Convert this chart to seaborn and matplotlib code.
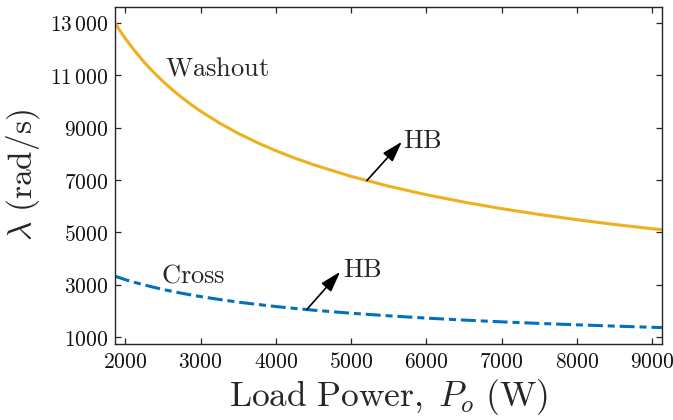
import matplotlib
matplotlib.use("Agg")
import matplotlib.pyplot as plt
from matplotlib.ticker import FuncFormatter, FixedLocator
import seaborn as sns
import pandas as pd

# Load power samples (W)
load_power = [1863, 1925, 2000, 2100, 2250, 2375, 2500, 2625, 2750, 2875,
              3000, 3250, 3500, 3750, 4000, 4250, 4500, 5000, 5500, 6000,
              6500, 7000, 7500, 8000, 8500, 9000, 9133]
# Boundary eigenvalue magnitude (rad/s)
washout = [13000, 12722, 12408, 12023, 11504, 11119, 10769, 10448, 10154, 9883,
           9631, 9180, 8784, 8435, 8122, 7842, 7587, 7142, 6766, 6442,
           6159, 5909, 5687, 5487, 5306, 5142, 5105]
cross = [3329, 3270, 3195, 3110, 2998, 2908, 2823, 2748, 2678, 2612,
         2550, 2441, 2339, 2252, 2170, 2098, 2031, 1915, 1816, 1729,
         1653, 1586, 1526, 1472, 1423, 1378, 1367]

x_ticks = [2000, 3000, 4000, 5000, 6000, 7000, 8000, 9000]
y_ticks = [1000, 3000, 5000, 7000, 9000, 11000, 13000]

# Hopf bifurcation markers: (base x, base y) on curve -> (tip x, tip y)
hb_washout = (5210, 6980, 5675, 8464)
hb_cross = (4413, 2060, 4855, 3497)

df = pd.DataFrame({"P": load_power, "washout": washout, "cross": cross})

sns.set_style("ticks")
plt.rcParams["mathtext.fontset"] = "cm"
plt.rcParams["font.family"] = ["DejaVu Serif"]

fig = plt.figure(figsize=(6.73, 4.20), dpi=100)
ax = fig.add_axes([0.1709, 0.181, 0.8128, 0.8023])

sns.lineplot(data=df, x="P", y="washout", ax=ax, color="#EDB120", lw=2.2,
             solid_capstyle="butt", solid_joinstyle="round")
sns.lineplot(data=df, x="P", y="cross", ax=ax, color="#0072BD", lw=2.2,
             linestyle=(0, (4.9, 1.6, 2.3, 1.6)), dash_capstyle="butt")

ax.set_xlim(min(load_power), max(load_power))
ax.set_ylim(740, 13610)

ax.xaxis.set_major_locator(FixedLocator(x_ticks))
ax.yaxis.set_major_locator(FixedLocator(y_ticks))


def fmt(v, _pos):
    v = int(round(v))
    if v >= 10000:
        return r"$%d\,%03d$" % (v // 1000, v % 1000)
    return r"$%d$" % v


ax.xaxis.set_major_formatter(FuncFormatter(fmt))
ax.yaxis.set_major_formatter(FuncFormatter(fmt))

ax.tick_params(direction="in", length=4, width=0.9, labelsize=15.5,
               top=True, right=True, color="#262626", labelcolor="#111111",
               pad=5)
for s in ax.spines.values():
    s.set_linewidth(1.0)
    s.set_color("#262626")

ax.set_xlabel(r"$\mathrm{Load\ Power,}\;P_o\ \mathrm{(W)}$", fontsize=25.5,
              labelpad=3)
ax.set_ylabel(r"$\lambda\ \mathrm{(rad/s)}$", fontsize=24, labelpad=6)

ax.text(2531, 11013, r"$\mathrm{Washout}$", fontsize=19, va="baseline")
ax.text(2478, 3103, r"$\mathrm{Cross}$", fontsize=19, va="baseline")

for bx, by, tx, ty, lx, ly in [(*hb_washout, 5692, 8224), (*hb_cross, 4895, 3306)]:
    ax.annotate("", xy=(tx, ty), xytext=(bx, by),
                arrowprops=dict(arrowstyle="-|>,head_length=0.9,head_width=0.28",
                                color="k", lw=1.2, shrinkA=0, shrinkB=0,
                                mutation_scale=14))
    ax.text(lx, ly, r"$\mathrm{HB}$", fontsize=19, va="baseline")

fig.savefig("out.png", dpi=100)
